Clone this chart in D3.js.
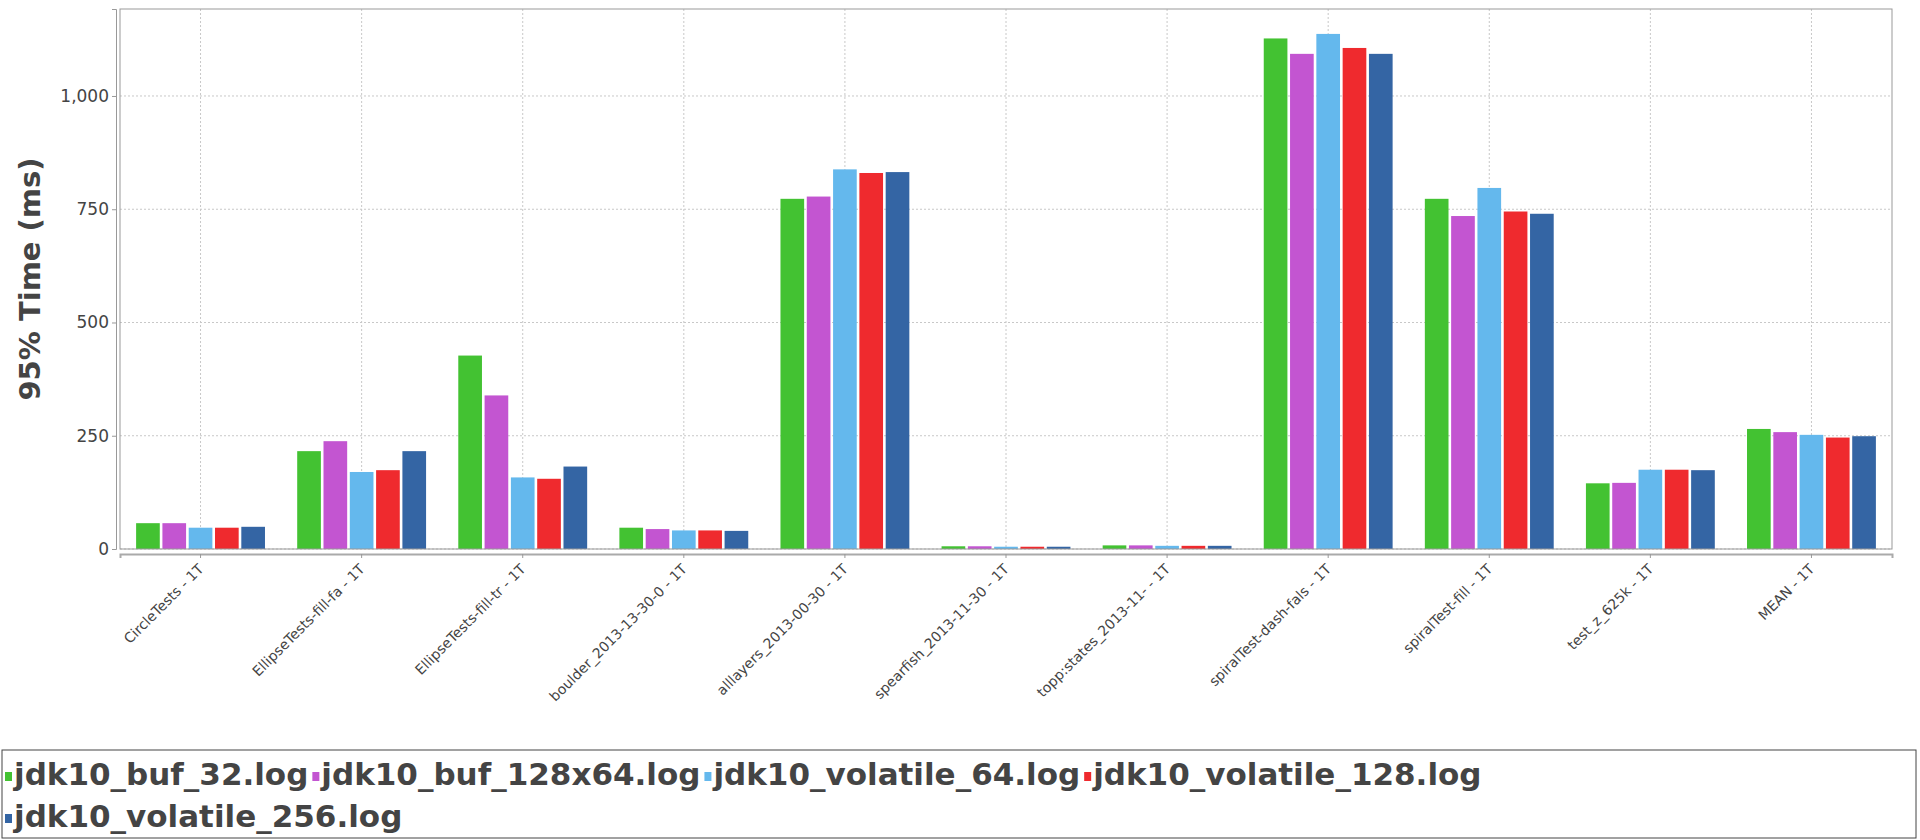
<!DOCTYPE html>
<html><head><meta charset="utf-8">
<script src="https://cdn.jsdelivr.net/npm/d3@7"></script>
<style>body{margin:0;background:#fff;font-family:"DejaVu Sans",sans-serif;}</style>
</head><body>
<svg width="1920" height="840"></svg>
<script>
var categories = ["CircleTests - 1T","EllipseTests-fill-fa - 1T","EllipseTests-fill-tr - 1T","boulder_2013-13-30-0 - 1T","alllayers_2013-00-30 - 1T","spearfish_2013-11-30 - 1T","topp:states_2013-11- - 1T","spiralTest-dash-fals - 1T","spiralTest-fill - 1T","test_z_625k - 1T","MEAN - 1T"];
var seriesNames = ["jdk10_buf_32.log","jdk10_buf_128x64.log","jdk10_volatile_64.log","jdk10_volatile_128.log","jdk10_volatile_256.log"];
var colors = ["#43c232","#c355d1","#64b8ed","#ef2a2e","#3465a4"];
var buf32 = [57,216,427,47,773,6,8,1127,773,145,265];
var buf128 = [57,238,339,44,778,6,8,1093,735,146,258];
var vol64 = [47,170,158,41,838,5,7,1137,797,175,252];
var vol128 = [47,174,155,41,830,5,7,1106,745,175,246];
var vol256 = [49,216,182,40,832,5,7,1093,740,174,249];
var yTicks = [0,250,500,750,1000];

var series = [buf32, buf128, vol64, vol128, vol256];
var svg = d3.select('svg');
const pLeft = 120, pRight = 1892, pTop = 9, pBottom = 549;

const x = d3.scaleBand().domain(categories).range([pLeft, pRight]);
const x1 = d3.scaleBand().domain(d3.range(5)).range([x.bandwidth()*0.1, x.bandwidth()*0.9]).paddingInner(0.1);
const y = d3.scaleLinear().domain([0, 1192]).range([pBottom, pTop]);

// grid
svg.append('g').selectAll('line').data(yTicks).enter().append('line')
  .attr('x1', pLeft).attr('x2', pRight).attr('y1', d => y(d)).attr('y2', d => y(d))
  .attr('stroke', '#c8c8c8').attr('stroke-dasharray', '2,2');
svg.append('g').selectAll('line').data(categories).enter().append('line')
  .attr('x1', d => x(d) + x.bandwidth()/2).attr('x2', d => x(d) + x.bandwidth()/2)
  .attr('y1', pTop).attr('y2', pBottom)
  .attr('stroke', '#c8c8c8').attr('stroke-dasharray', '2,2');

// bars
series.forEach((vals, si) => {
  svg.append('g').selectAll('rect').data(vals).enter().append('rect')
    .attr('x', (d, i) => x(categories[i]) + x1(si))
    .attr('width', x1.bandwidth())
    .attr('y', d => y(d))
    .attr('height', d => pBottom - y(d))
    .attr('fill', colors[si]);
});

// frame
svg.append('rect').attr('x', pLeft).attr('y', pTop).attr('width', pRight-pLeft).attr('height', pBottom-pTop)
  .attr('fill', 'none').attr('stroke', '#999');

// y axis
var ya = svg.append('g').attr('transform', `translate(${pLeft - 4},0)`)
  .call(d3.axisLeft(y).tickValues(yTicks).tickFormat(d3.format(',')).tickSize(4));
ya.select('.domain').attr('stroke', '#999');
ya.selectAll('line').attr('stroke', '#999');
ya.selectAll('text').attr('font-size', 17).attr('fill', '#444').attr('font-family', 'DejaVu Sans');

// x axis
var xa = svg.append('g').attr('transform', `translate(0,${pBottom + 5})`)
  .call(d3.axisBottom(x).tickSize(4));
xa.select('.domain').attr('stroke', '#aaa').attr('stroke-width', 2);
xa.selectAll('line').attr('stroke', '#999');
xa.selectAll('text').attr('font-size', 14).attr('fill', '#444').attr('font-family', 'DejaVu Sans')
  .attr('text-anchor', 'end').attr('transform', 'translate(-4,8) rotate(-45)').attr('dy', '0.3em');

// y title
svg.append('text').attr('transform', `translate(40,${(pTop+pBottom)/2}) rotate(-90)`)
  .attr('text-anchor', 'middle').attr('font-size', 29).attr('font-weight', 'bold').attr('fill', '#444')
  .text('95% Time (ms)');

// legend
svg.append('rect').attr('x', 2).attr('y', 750).attr('width', 1914).attr('height', 88)
  .attr('fill', 'none').attr('stroke', '#444');
var lx = 5, ly = 785;
seriesNames.forEach((n, i) => {
  if (i === 4) { lx = 5; ly = 827; }
  svg.append('rect').attr('x', lx).attr('y', ly - 13).attr('width', 7).attr('height', 9).attr('fill', colors[i]);
  var t = svg.append('text').attr('x', lx + 9).attr('y', ly).attr('font-size', 31).attr('font-weight', 'bold')
    .attr('fill', '#444').text(n);
  lx += 9 + t.node().getComputedTextLength() + 4;
});
</script>
</body></html>
